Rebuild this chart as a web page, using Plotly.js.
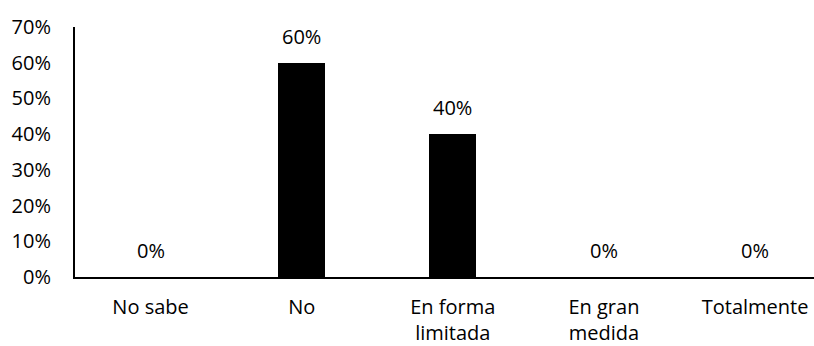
<!DOCTYPE html>
<html>
<head>
<meta charset="utf-8">
<script src="https://cdn.plot.ly/plotly-3.0.1.min.js"></script>
<style>html,body{margin:0;padding:0;background:#fff;} #chart{width:814px;height:346px;}</style>
</head>
<body>
<div id="chart"></div>
<script>
const categories = ["No sabe", "No", "En forma<br>limitada", "En gran<br>medida", "Totalmente"];
const values = [0, 0.60, 0.40, 0, 0];
const valueLabels = ["0%", "60%", "40%", "0%", "0%"];
const yTickVals = [0, 0.1, 0.2, 0.3, 0.4, 0.5, 0.6, 0.7];
const yTickText = ["0%", "10%", "20%", "30%", "40%", "50%", "60%", "70%"];

const FONT = "Open Sans, sans-serif";

const trace = {
  type: "bar",
  x: [0, 1, 2, 3, 4],
  y: values,
  width: 0.31,
  marker: {color: "#000000"},
  hoverinfo: "none"
};

const annotations = values.map((v, i) => ({
  x: i, y: v, xref: "x", yref: "y",
  text: valueLabels[i],
  showarrow: false,
  yanchor: "bottom",
  yshift: 11,
  font: {family: FONT, size: 20, color: "#000"}
}));

const layout = {
  width: 814, height: 346,
  margin: {l: 75, r: 0, t: 27, b: 69},
  paper_bgcolor: "#fff", plot_bgcolor: "#fff",
  showlegend: false,
  font: {family: FONT, size: 20, color: "#000"},
  xaxis: {
    range: [-0.5, 4.39],
    tickvals: [0, 1, 2, 3, 4],
    ticktext: categories,
    showgrid: false, zeroline: false,
    showline: true, linecolor: "#000", linewidth: 2,
    ticks: "", ticklabelstandoff: 11,
    tickfont: {family: FONT, size: 20, color: "#000"},
    fixedrange: true
  },
  yaxis: {
    range: [0, 0.7],
    tickvals: yTickVals,
    ticktext: yTickText,
    showgrid: false, zeroline: false,
    showline: true, linecolor: "#000", linewidth: 2,
    ticks: "", ticklabelstandoff: 18,
    tickfont: {family: FONT, size: 20, color: "#000"},
    fixedrange: true
  },
  annotations: annotations,
  bargap: 0
};

Plotly.newPlot("chart", [trace], layout, {displayModeBar: false, staticPlot: true});
</script>
</body>
</html>
